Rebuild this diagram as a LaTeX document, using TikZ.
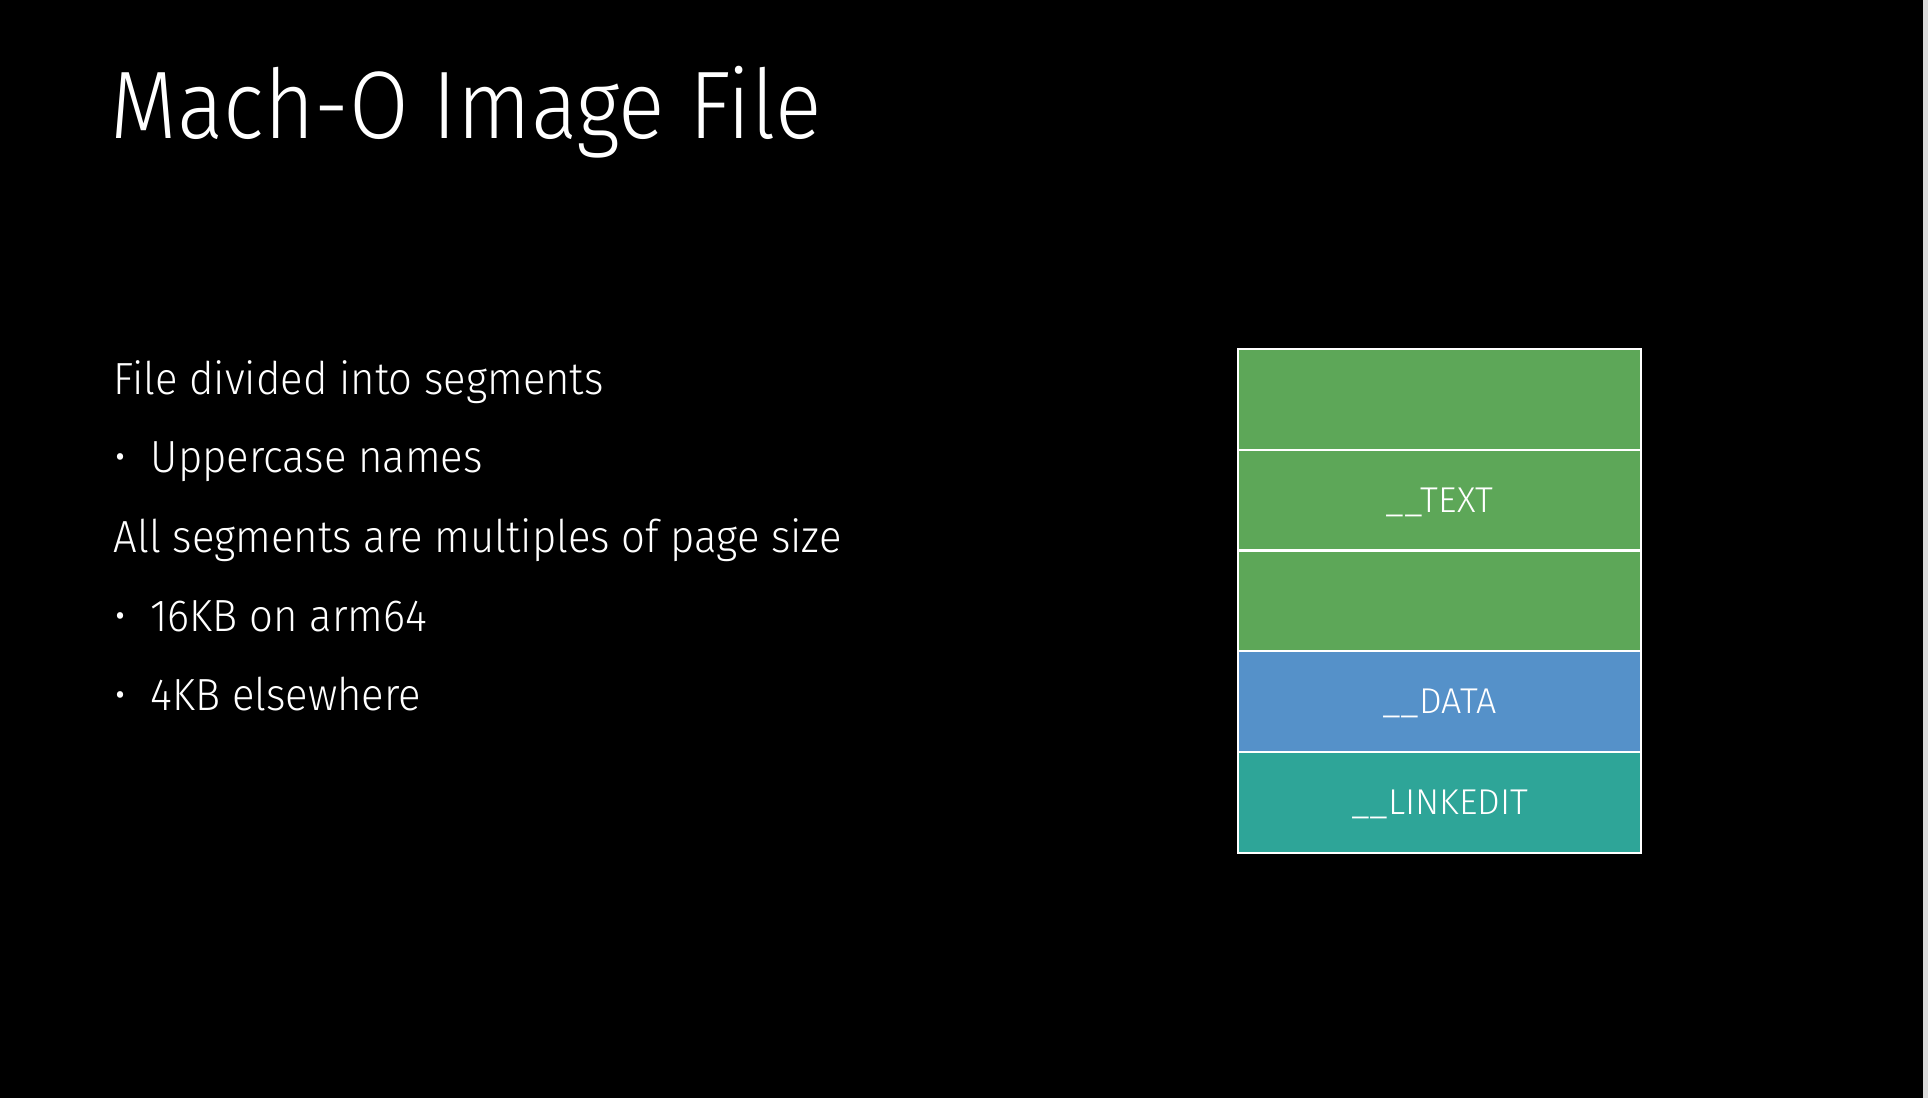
\documentclass[tikz,border=0pt]{standalone}
\usepackage{fontspec}
\IfFontExistsTF{Fira Sans Light}
	{\setmainfont{Fira Sans Light}[FakeStretch=0.93]
	 \newfontfamily\titlefont{Fira Sans Light}[FakeStretch=0.9]
	 \newfontfamily\segfont{Fira Sans Light}}
	{\setmainfont{Fira Sans}[FakeStretch=0.93]
	 \newfontfamily\titlefont{Fira Sans}[FakeStretch=0.9]
	 \newfontfamily\segfont{Fira Sans}}
\usetikzlibrary{positioning}
\definecolor{seggreen}{RGB}{93,167,88}
\definecolor{segblue}{RGB}{85,145,201}
\definecolor{segteal}{RGB}{46,165,152}
\tikzset{
	seg/.style={draw=white, line width=0.6pt, minimum width=4.03cm, minimum height=1.007cm,
		inner sep=0pt, outer sep=0pt, text height=6.9pt, text depth=0pt,
		text=white, font=\segfont\fontsize{10.2}{12}\selectfont},
	line/.style={anchor=base west, inner sep=0pt, text=white, font=\fontsize{12.8}{15}\selectfont},
	dot/.style={anchor=base, inner sep=0pt, text=white, font=\fontsize{12.8}{15}\selectfont}
}

\begin{document}
\begin{tikzpicture}[x=0.01cm,y=-0.01cm]
				%%%%% START %%%%%
				\def\w{1928}
				\def\h{1098}
				\def\xl{113}
				\def\xt{150}
				\def\xb{121}
				\def\boxx{1439.5}
				\def\boxy{349}

				\fill[black] (0,0) rectangle (\w,\h);
				\useasboundingbox (0,0) rectangle (\w,\h);
				\fill[black!14] (\w-5,0) rectangle (\w,\h);

				\node[anchor=base west, inner sep=0pt, text=white, font=\titlefont\fontsize{27.3}{30}\selectfont] (title) at (110,139) {Mach-O Image File};

				\node[line] (divided) at (\xl,395) {File divided into segments};
				\node[dot] (dotA) at (\xb,473) {•};
				\node[line] (upper) at (\xt,473) {Uppercase names};
				\node[line] (multiples) at (\xl,553) {All segments are multiples of page size};
				\node[dot] (dotB) at (\xb,632) {•};
				\node[line] (arm) at (\xt,632) {16KB on arm64};
				\node[dot] (dotC) at (\xb,711) {•};
				\node[line] (elsewhere) at (\xt,711) {4KB elsewhere};

				\node[seg, fill=seggreen, anchor=north] (texttop) at (\boxx,\boxy) {};
				\node[seg, fill=seggreen, below=0pt of texttop] (text) {\_\_TEXT};
				\node[seg, fill=seggreen, below=0pt of text] (textbot) {};
				\node[seg, fill=segblue, below=0pt of textbot] (data) {\_\_DATA};
				\node[seg, fill=segteal, below=0pt of data] (linkedit) {\_\_LINKEDIT};
				%%%%% START %%%%%
\end{tikzpicture}
\end{document}
